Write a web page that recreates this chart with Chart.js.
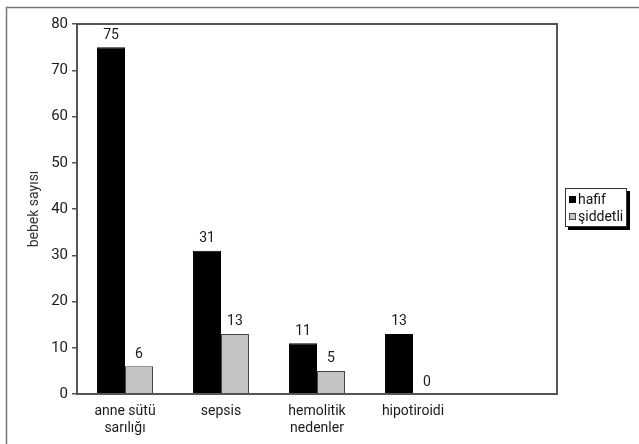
<!DOCTYPE html>
<html>
<head>
<meta charset="utf-8">
<script src="https://cdn.jsdelivr.net/npm/chart.js@4"></script>
<style>
html,body{margin:0;padding:0;background:#fff;}
#wrap{position:relative;width:639px;height:444px;}
</style>
</head>
<body>
<div id="wrap"><canvas id="c" width="639" height="444"></canvas></div>
<script>
const categories = [["anne sütü","sarılığı"], "sepsis", ["hemolitik","nedenler"], "hipotiroidi", ""];
const hafif = [75, 31, 11, 13, null];
const siddetli = [6, 13, 5, 0, null];
const seriesNames = ["hafif", "şiddetli"];
const yTicks = [0, 10, 20, 30, 40, 50, 60, 70, 80];
const yTitle = "bebek sayısı";

const FONT = "'Liberation Sans Narrow', 'Roboto', sans-serif";

const framePlugin = {
  id: 'frame',
  beforeDraw(chart) {
    const ctx = chart.ctx;
    ctx.save();
    ctx.strokeStyle = '#777';
    ctx.lineWidth = 1.5;
    ctx.beginPath();
    ctx.moveTo(6.5, 444);
    ctx.lineTo(6.5, 7.5);
    ctx.lineTo(639, 7.5);
    ctx.stroke();
    ctx.restore();
  },
  afterDatasetsDraw(chart) {
    const ctx = chart.ctx;
    const a = chart.chartArea;
    ctx.save();
    ctx.strokeStyle = '#555';
    ctx.lineWidth = 2;
    ctx.strokeRect(a.left, a.top, a.right - a.left, a.bottom - a.top);
    // value labels
    ctx.fillStyle = '#1a1a1a';
    ctx.font = "14px " + FONT;
    ctx.textAlign = 'center';
    ctx.textBaseline = 'bottom';
    chart.data.datasets.forEach((ds, di) => {
      const meta = chart.getDatasetMeta(di);
      meta.data.forEach((bar, i) => {
        const v = ds.data[i];
        if (v === null || v === undefined) return;
        ctx.fillText(String(v), bar.x, bar.y - 5);
      });
    });
    // legend
    const lx = 565, ly = 188, lw = 62, lh = 39;
    ctx.fillStyle = '#000';
    ctx.fillRect(lx + 3, ly + 3, lw, lh);
    ctx.fillStyle = '#fff';
    ctx.fillRect(lx, ly, lw, lh);
    ctx.strokeStyle = '#333';
    ctx.lineWidth = 1;
    ctx.strokeRect(lx + 0.5, ly + 0.5, lw - 1, lh - 1);
    ctx.textAlign = 'left';
    ctx.textBaseline = 'middle';
    ctx.font = "14px " + FONT;
    chart.data.datasets.forEach((ds, di) => {
      const cy = ly + 12 + di * 17;
      ctx.fillStyle = ds.backgroundColor;
      ctx.fillRect(lx + 4, cy - 4, 7, 7);
      ctx.strokeStyle = ds.borderColor;
      ctx.lineWidth = 1;
      ctx.strokeRect(lx + 4.5, cy - 3.5, 6, 6);
      ctx.fillStyle = '#111';
      ctx.fillText(ds.label, lx + 13, cy);
    });
    ctx.restore();
  }
};

new Chart(document.getElementById('c'), {
  type: 'bar',
  data: {
    labels: categories,
    datasets: [
      { label: seriesNames[0], data: hafif, backgroundColor: '#000', borderColor: '#000', borderWidth: 1 },
      { label: seriesNames[1], data: siddetli, backgroundColor: '#c4c4c4', borderColor: '#444', borderWidth: 1 }
    ]
  },
  options: {
    responsive: false,
    animation: false,
    devicePixelRatio: 1,
    layout: { padding: { left: 0, right: 82, top: 24, bottom: 0 } },
    plugins: { legend: { display: false }, tooltip: { enabled: false } },
    datasets: { bar: { categoryPercentage: 0.583, barPercentage: 1.0 } },
    scales: {
      x: {
        grid: { display: false, drawTicks: false },
        border: { display: false },
        ticks: { color: '#1a1a1a', font: { family: FONT, size: 14 }, padding: 9, maxRotation: 0, autoSkip: false },
        afterFit(s) { s.height = 50; }
      },
      y: {
        min: 0, max: 80,
        afterBuildTicks(s) { s.ticks = yTicks.map(v => ({ value: v })); },
        grid: { drawOnChartArea: false, drawTicks: true, tickLength: 5, color: '#555', lineWidth: 1.5 },
        border: { display: false },
        ticks: { color: '#1a1a1a', font: { family: FONT, size: 15 }, padding: 4 },
        title: { display: true, text: yTitle, color: '#333', font: { family: FONT, size: 14 }, padding: { top: 26, bottom: 0 } },
        afterFit(s) { s.width = 77; }
      }
    }
  },
  plugins: [framePlugin]
});
</script>
</body>
</html>
